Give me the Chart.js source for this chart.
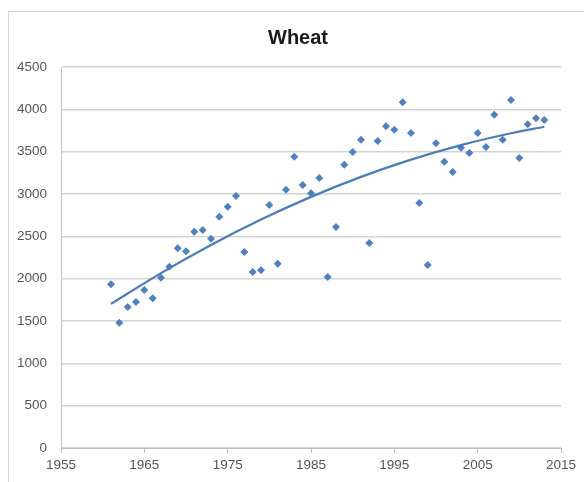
<!DOCTYPE html>
<html>
<head>
<meta charset="utf-8">
<script src="https://cdn.jsdelivr.net/npm/chart.js@4"></script>
<style>
  html, body { margin: 0; padding: 0; background: #ffffff; }
  #wrap { position: relative; width: 584px; height: 482px; overflow: hidden; }
  #frame { position: absolute; left: 8px; top: 11px; width: 700px; height: 700px;
           border-left: 1px solid #d4d4d4; border-top: 1px solid #d4d4d4; pointer-events: none; }
  canvas { position: absolute; left: 0; top: 0; }
</style>
</head>
<body>
<div id="wrap">
  <canvas id="c" width="584" height="482"></canvas>
  <div id="frame"></div>
</div>
<script>
const years = [1961,1962,1963,1964,1965,1966,1967,1968,1969,1970,1971,1972,1973,1974,1975,1976,1977,1978,1979,1980,1981,1982,1983,1984,1985,1986,1987,1988,1989,1990,1991,1992,1993,1994,1995,1996,1997,1998,1999,2000,2001,2002,2003,2004,2005,2006,2007,2008,2009,2010,2011,2012,2013];
const wheat = [1935,1480,1665,1725,1865,1770,2010,2140,2360,2325,2555,2575,2470,2730,2850,2975,2315,2080,2100,2870,2175,3050,3440,3105,3010,3190,2020,2610,3345,3495,3640,2420,3625,3800,3760,4085,3720,2895,2160,3600,3380,3260,3545,3485,3720,3555,3935,3640,4110,3425,3825,3895,3875];
const trendYears = [1961,1967,1973,1979,1985,1991,1997,2003,2009,2013];
const trendValues = [1702,2066,2398,2698,2966,3202,3406,3578,3718,3794];
const xTicks = [1955,1965,1975,1985,1995,2005,2015];
const yTicks = [0,500,1000,1500,2000,2500,3000,3500,4000,4500];

const blue = '#4f81bd';
const tickFont = { family: 'Liberation Sans, Arial, sans-serif', size: 13.5 };

new Chart(document.getElementById('c'), {
  type: 'scatter',
  data: {
    datasets: [
      {
        label: 'Wheat',
        data: years.map((y, i) => ({ x: y, y: wheat[i] })),
        pointStyle: 'rectRot',
        pointRadius: 4,
        pointBackgroundColor: blue,
        pointBorderColor: blue,
        pointBorderWidth: 0,
        showLine: false,
        order: 2
      },
      {
        label: 'Trend',
        data: trendYears.map((y, i) => ({ x: y, y: trendValues[i] })),
        showLine: true,
        borderColor: '#4a7ebb',
        borderWidth: 2.2,
        pointRadius: 0,
        fill: false,
        cubicInterpolationMode: 'monotone',
        order: 1
      }
    ]
  },
  options: {
    responsive: false,
    animation: false,
    events: [],
    layout: { padding: { left: 12, right: 0, top: 0, bottom: 0 } },
    plugins: {
      legend: { display: false },
      tooltip: { enabled: false },
      title: {
        display: true,
        text: 'Wheat',
        color: '#1a1a1a',
        font: { family: 'Liberation Sans, Arial, sans-serif', size: 20, weight: 'bold' },
        padding: { top: 26, bottom: 17 }
      }
    },
    scales: {
      x: {
        type: 'linear',
        min: xTicks[0],
        max: xTicks[xTicks.length - 1],
        afterBuildTicks: s => { s.ticks = xTicks.map(v => ({ value: v })); },
        afterFit: s => { s.height = 34; },
        grid: { drawOnChartArea: false, drawTicks: true, tickLength: 5, color: '#bfbfbf' },
        border: { color: '#bfbfbf', width: 1 },
        ticks: { color: '#555555', font: tickFont, padding: 4, maxRotation: 0,
                 callback: v => String(v) }
      },
      y: {
        type: 'linear',
        position: 'left',
        min: yTicks[0],
        max: yTicks[yTicks.length - 1],
        afterBuildTicks: s => { s.ticks = yTicks.map(v => ({ value: v })); },
        afterFit: s => { s.width = 49; },
        grid: { drawTicks: false, color: '#d3d3d3', lineWidth: 1.5 },
        border: { color: '#bfbfbf', width: 1 },
        ticks: { color: '#555555', font: tickFont, padding: 14,
                 callback: v => String(v) }
      },
      yRight: {
        type: 'linear',
        position: 'right',
        min: 0,
        max: 1,
        afterFit: s => { s.width = 23; },
        grid: { display: false, drawOnChartArea: false },
        border: { display: false },
        ticks: { display: false }
      }
    }
  }
});
</script>
</body>
</html>
